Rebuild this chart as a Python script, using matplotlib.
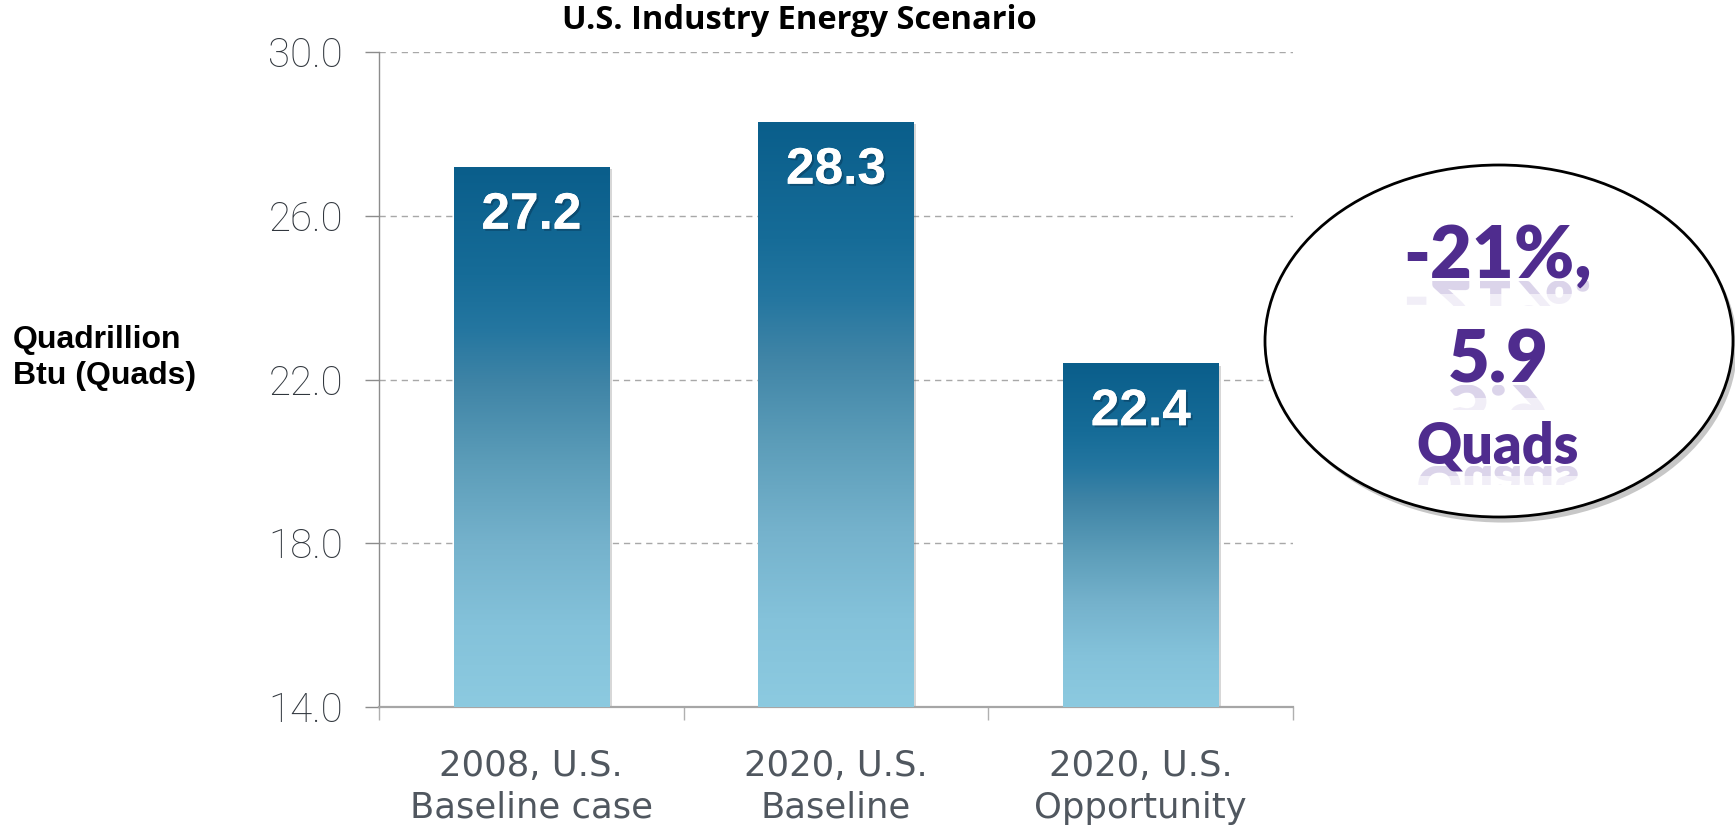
"""
U.S. Industry Energy Scenario - gradient bar chart with a callout bubble.
"""
import numpy as np
import matplotlib
matplotlib.use("Agg")
import matplotlib.pyplot as plt
import matplotlib.patheffects as pe
from matplotlib.colors import LinearSegmentedColormap
from matplotlib.patches import Ellipse, PathPatch
from matplotlib.textpath import TextPath
from matplotlib.font_manager import FontProperties
from matplotlib.transforms import Affine2D, IdentityTransform, Bbox


CATEGORIES   = ["2008, U.S.\nBaseline case", "2020, U.S.\nBaseline", "2020, U.S.\nOpportunity"]
ENERGY_QUADS = [27.2, 28.3, 22.4]
Y_TICKS      = [14.0, 18.0, 22.0, 26.0, 30.0]
Y_MIN, Y_MAX = 14.0, 30.0
CALLOUT      = ["-21%,", "5.9", "Quads"]

TITLE  = "U.S. Industry Energy Scenario"
YLABEL = "Quadrillion\nBtu (Quads)"

W_PX, H_PX, DPI = 1735, 833, 100

TICK_FONT   = ["Roboto", "DejaVu Sans"]
XLAB_FONT   = ["DejaVu Sans"]
TITLE_FONT  = ["Open Sans", "DejaVu Sans"]
CALL_FONT   = ["Lato", "DejaVu Sans"]
BOLD_FONT   = ["Liberation Sans", "DejaVu Sans"]
TICK_COLOR  = "#30363d"
XLAB_COLOR  = "#50575f"
PURPLE      = "#4f2c8e"

bar_cmap = LinearSegmentedColormap.from_list("bar_grad", [
    (0.00, "#0a5e8b"), (0.20, "#166c98"), (0.30, "#2476a0"), (0.40, "#3f84a6"),
    (0.55, "#5c9db9"), (0.70, "#75b2cc"), (0.85, "#84c2da"), (1.00, "#8ccae0")])


def fx(px):
    return px / W_PX


def fy(py):
    # pixel row from top -> figure fraction
    return 1 - py / H_PX


fig = plt.figure(figsize=(W_PX / DPI, H_PX / DPI), dpi=DPI)
ax = fig.add_axes([fx(379), fy(707), fx(1293) - fx(379), fy(52) - fy(707)])

# ── Bars with vertical gradient ─────────────────────────────────────────────
x = np.arange(len(CATEGORIES))
bars = ax.bar(x, [v - Y_MIN for v in ENERGY_QUADS], bottom=Y_MIN, width=0.51,
              color="#3f84a6", edgecolor="none", zorder=2,
              path_effects=[pe.SimplePatchShadow(offset=(2, -2), shadow_rgbFace="#606060", alpha=0.25),
                            pe.Normal()])

grad = np.linspace(0, 1, 256).reshape(-1, 1)
for rect, val in zip(bars, ENERGY_QUADS):
    x0 = rect.get_x()
    im = ax.imshow(grad, cmap=bar_cmap, origin="upper", aspect="auto",
                   extent=(x0, x0 + rect.get_width(), Y_MIN, val), zorder=3)
    im.set_clip_path(rect)
    ax.annotate(f"{val:.1f}", (rect.get_x() + rect.get_width() / 2, val),
                xytext=(0, -35), textcoords="offset points", ha="center", va="center",
                fontsize=37, fontweight="bold", family=BOLD_FONT, color="white", zorder=4,
                path_effects=[pe.withSimplePatchShadow(offset=(1.5, -1.5), shadow_rgbFace="#08324f", alpha=0.45),
                              pe.Normal()])

ax.set_xlim(-0.5, len(CATEGORIES) - 0.5)
ax.set_ylim(Y_MIN, Y_MAX)

# ── Axes styling ────────────────────────────────────────────────────────────
for side in ("top", "right"):
    ax.spines[side].set_visible(False)
ax.spines["left"].set_color("#8c8c8c")
ax.spines["left"].set_linewidth(1)
ax.spines["bottom"].set_color("#a6a6a6")
ax.spines["bottom"].set_linewidth(1.6)

ax.set_yticks(Y_TICKS, labels=[f"{t:.1f}" for t in Y_TICKS])
ax.tick_params(axis="y", direction="out", length=10, width=1, color="#8c8c8c",
               pad=16, labelsize=29, labelcolor=TICK_COLOR)
ax.yaxis.grid(True, linestyle=(0, (4.5, 3.5)), color="#a8a8a8", lw=1)
ax.set_axisbelow(True)

ax.set_xticks(x, labels=CATEGORIES)
ax.set_xticks(np.arange(len(CATEGORIES) + 1) - 0.5, minor=True)
ax.tick_params(axis="x", which="major", length=0, pad=30, labelsize=25.5, labelcolor=XLAB_COLOR)
ax.tick_params(axis="x", which="minor", direction="out", length=9.5, width=1, color="#b0b0b0")

for lbl in ax.get_yticklabels():
    lbl.set_family(TICK_FONT)
    lbl.set_fontweight("light")
for lbl in ax.get_xticklabels():
    lbl.set_family(XLAB_FONT)
    lbl.set_linespacing(1.3)

# ── Titles ──────────────────────────────────────────────────────────────────
fig.text(fx(799), fy(29), TITLE, ha="center", va="baseline",
         fontsize=23.5, fontweight="bold", family=TITLE_FONT, color="black")
fig.text(fx(13), fy(358), YLABEL, ha="left", va="center", linespacing=1.25,
         fontsize=23, fontweight="bold", family=BOLD_FONT, color="black")

# ── Callout bubble ──────────────────────────────────────────────────────────
ell = Ellipse((fx(1499), fy(341)), fx(468), 352 / H_PX, transform=fig.transFigure,
              facecolor="white", edgecolor="black", lw=2,
              path_effects=[pe.SimplePatchShadow(offset=(3, -4), shadow_rgbFace="#606060", alpha=0.35),
                            pe.Normal()])
fig.add_artist(ell)

callout_base = [278, 382, 463]   # baselines, px from top
callout_size = [52, 52, 40]      # pt
callout_prop = FontProperties(family=CALL_FONT, weight="heavy")

for txt, base, size in zip(CALLOUT, callout_base, callout_size):
    fig.text(fx(1498), fy(base), txt, ha="center", va="baseline",
             fontsize=size, fontweight="heavy", family=CALL_FONT, color=PURPLE)

    # faded mirror image just under the line
    size_px = size * DPI / 72
    tp = TextPath((0, 0), txt, size=size_px, prop=callout_prop)
    bb = tp.get_extents()
    y_axis = H_PX - base - 3
    tr = (Affine2D().translate(-(bb.x0 + bb.width / 2), 0)
          .scale(1, -0.9).translate(1498, y_axis))
    for a, depth in [(0.18, 0.18), (0.10, 0.34)]:
        patch = PathPatch(tr.transform_path(tp), transform=IdentityTransform(),
                          facecolor="#7a5fb5", edgecolor="none", alpha=a)
        patch.set_clip_box(Bbox.from_extents(0, y_axis - depth * size_px, W_PX, y_axis))
        fig.add_artist(patch)

fig.savefig("out.png", dpi=DPI, facecolor="white")
